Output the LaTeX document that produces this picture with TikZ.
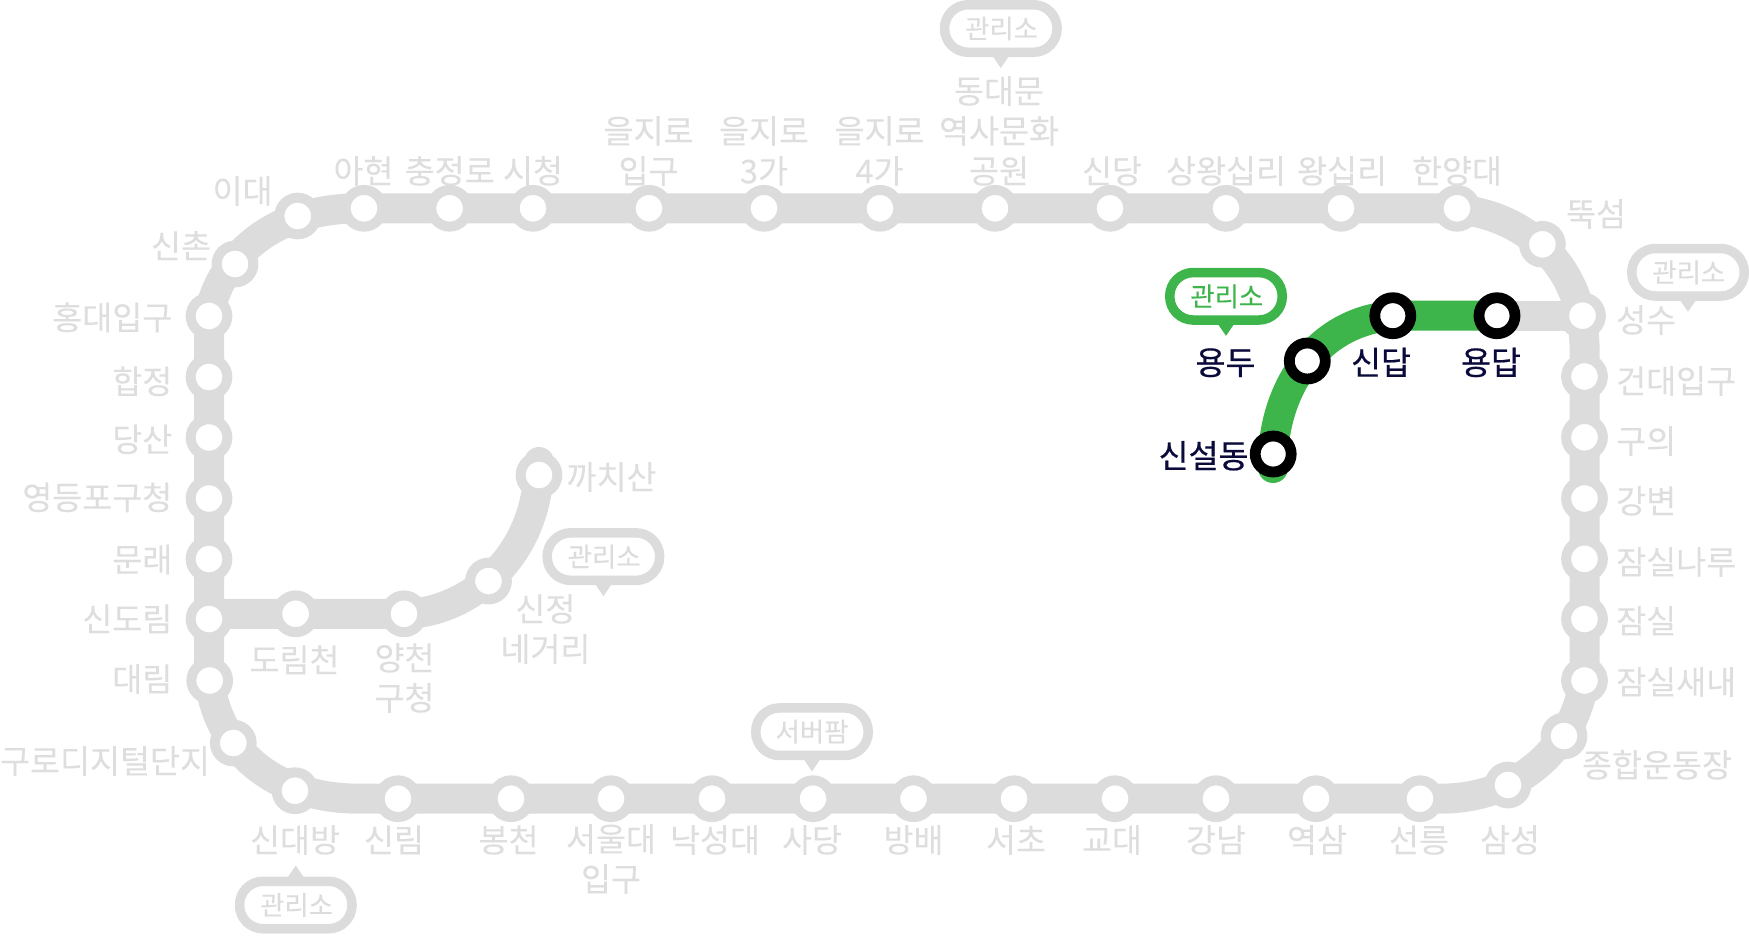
\documentclass[tikz,border=0pt]{standalone}
\usepackage{fontspec}
\setmainfont[FakeBold=0.08]{Noto Sans CJK KR}
\newfontfamily\krbold[FakeBold=0.5]{Noto Sans CJK KR}
\definecolor{trk}{HTML}{DCDCDC}
\definecolor{txt}{HTML}{DEDEDE}
\definecolor{grn}{HTML}{3DB54A}
\definecolor{navy}{HTML}{0B0B3B}
\newcommand{\callout}[5]{% name, x, y, colour, direction (+1 tip below, -1 tip above)
  \node[pill,draw=#4,text=#4] (#1) at (#2,#3) {\hspace{1.5pt}관리소};
  \coordinate (#1t) at ([yshift={-39.5pt*(#5)}]#1.center);
  \coordinate (#1a) at ([xshift=-11pt,yshift={-23.5pt*(#5)}]#1.center);
  \coordinate (#1b) at ([xshift=11pt,yshift={-23.5pt*(#5)}]#1.center);
  \fill[#4] (#1a) -- (#1t) -- (#1b) -- cycle;
}
\tikzset{
  x=1pt,y=-1pt,
  track/.style={line width=30pt,draw=trk},
  gtrack/.style={line width=30pt,draw=grn},
  stn/.style={circle,draw=trk,line width=10pt,fill=white,minimum size=36.7pt,inner sep=0pt},
  act/.style={circle,draw=black,line width=10.8pt,fill=white,minimum size=36pt,inner sep=0pt},
  lab/.style={anchor=base,align=center,inner sep=0pt,yshift=-2.2pt,text=txt,font=\fontsize{32.6}{40}\selectfont},
  alab/.style={anchor=base,align=center,inner sep=0pt,yshift=-1pt,text=navy,font=\krbold\fontsize{32.6}{40}\selectfont},
  pill/.style={rectangle,rounded corners=23.5pt,line width=9.5pt,fill=white,minimum width=112.5pt,minimum height=47.5pt,inner sep=0pt,font=\fontsize{26.4}{30}\selectfont},
}
\begin{document}
\begin{tikzpicture}
\useasboundingbox (0,0) rectangle (1749,945);
% station positions
\foreach \n/\x/\y in {
 hd/209/316, hj/209/377, ds/209/437.5, yd/209/498.5, mr/209/559, sd/209/619, dl/209.7/680.5,
 gd/233.3/743, sb/295/790.7, sl/398/798.7, bc/511/798.7, su/611/798.7, ns/712/798.7, sa/813/798.7,
 bb/913.5/798.7, sc/1014/798.7, gy/1115/798.7, gn/1216/798.7, ys/1316/798.7, sn/1420/798.7,
 ss/1508/785, jh/1564/736, js/1584.5/680.5, ja/1584.5/619, jn/1584.5/558.8, gb/1584.5/498.5,
 gu/1584.5/437.3, kd/1584.5/376.5, sw/1582.5/315.7, tt/1542.4/244.3, hy/1457/208.3, wa/1341/208.3,
 sw2/1226/208.3, sg/1110/208.3, dd/995/208.3, e4/880/208.3, e3/764/208.3, e1/649/208.3, ch/533/208.3,
 cj/449.6/208.3, ah/364/208.3, ed/297.7/216, sh/235/264,
 dr/295.6/613.8, yc/404/613.8, sj/488.5/581, kk/539/475,
 yt/1497/315.7, st/1392.8/315.7, yo/1307.3/361, sr/1273.2/454}
 {\coordinate (c\n) at (\x,\y);}
\coordinate (ctipk) at (539,462);
\coordinate (cgend) at (1273.2,468);
\coordinate (cnw) at (360,208.3);
\coordinate (cne) at (1440,208.3);
\coordinate (cen) at (1584.5,345);
\coordinate (ces) at (1584.5,660);
\coordinate (cse) at (1440,798.7);
\coordinate (csw0) at (360,798.7);
\coordinate (cws) at (209,660);
\coordinate (cwn) at (209,316);
% loop
\draw[track] (cwn) .. controls (217,268) and (262,208.3) .. (cnw) -- (cne)
  .. controls (1520,208.3) and (1582,262) .. (cen) -- (ces)
  .. controls (1588,725) and (1535,798.7) .. (cse) -- (csw0)
  .. controls (252,798.7) and (206,725) .. (cws) -- cycle;
% branch
\draw[track,line cap=round] (csd |- cdr) -- (cyc) .. controls (462,614) and (539,562) .. (ctipk);
% east spur
\draw[track] (cyt) -- (csw);
\draw[gtrack,line cap=round] (cgend) -- (csr);
\draw[gtrack] (csr) .. controls (1276,390) and (1315,322) .. (cst) -- (cyt);
% stations
\foreach \n in {hd,hj,ds,yd,mr,sd,dl,gd,sb,sl,bc,su,ns,sa,bb,sc,gy,gn,ys,sn,ss,jh,js,ja,jn,gb,gu,kd,sw,tt,hy,wa,sw2,sg,dd,e4,e3,e1,ch,cj,ah,ed,sh,dr,yc,sj,kk}
 {\node[stn] (\n) at (c\n) {};}
\foreach \n in {yt,st,yo,sr}
 {\node[act] (\n) at (c\n) {};}
% west labels
\node[lab,anchor=base east] (l1) at (172.5,327.5) {홍대입구};
\node[lab,anchor=base east] (l2) at (172.5,391.5) {합정};
\node[lab,anchor=base east] (l3) at (172.5,449.5) {당산};
\node[lab,anchor=base east] (l4) at (172.5,507.5) {영등포구청};
\node[lab,anchor=base east] (l5) at (172.5,569.5) {문래};
\node[lab,anchor=base east] (l6) at (172.5,629) {신도림};
\node[lab,anchor=base east] (l7) at (172.5,689) {대림};
\node[lab] (l8) at (105,771) {구로디지털단지};
% south labels
\node[lab] (l9) at (295,850) {신대방};
\node[lab] (l10) at (394,850) {신림};
\node[lab] (l11) at (508.6,850) {봉천};
\node[lab] (l12) at (611,889) {서울대\\입구};
\node[lab] (l13) at (715,850) {낙성대};
\node[lab] (l14) at (812,850) {사당};
\node[lab] (l15) at (913.5,850) {방배};
\node[lab] (l16) at (1016,850) {서초};
\node[lab] (l17) at (1112,850) {교대};
\node[lab] (l18) at (1216,850) {강남};
\node[lab] (l19) at (1317,850) {역삼};
\node[lab] (l20) at (1419,850) {선릉};
\node[lab] (l21) at (1510,850) {삼성};
\node[lab] (l22) at (1657,775) {종합운동장};
% east labels
\node[lab,anchor=base west] (l23) at (1616,330) {성수};
\node[lab,anchor=base west] (l24) at (1616,391) {건대입구};
\node[lab,anchor=base west] (l25) at (1616,451) {구의};
\node[lab,anchor=base west] (l26) at (1616,511) {강변};
\node[lab,anchor=base west] (l27) at (1616,572) {잠실나루};
\node[lab,anchor=base west] (l28) at (1616,631) {잠실};
\node[lab,anchor=base west] (l29) at (1616,692) {잠실새내};
\node[lab] (l30) at (1596,224) {뚝섬};
% north labels
\node[lab] (l31) at (1457,181) {한양대};
\node[lab] (l32) at (1342,181) {왕십리};
\node[lab] (l33) at (1226,181) {상왕십리};
\node[lab] (l34) at (1112,181) {신당};
\node[lab] (l35) at (999,181) {동대문\\역사문화\\공원};
\node[lab] (l36) at (879.5,181) {을지로\\4가};
\node[lab] (l37) at (764,181) {을지로\\3가};
\node[lab] (l38) at (648.5,181) {을지로\\입구};
\node[lab] (l39) at (533,181) {시청};
\node[lab] (l40) at (449.7,181) {충정로};
\node[lab] (l41) at (363.5,181) {아현};
\node[lab] (l42) at (242.5,201) {이대};
\node[lab] (l43) at (181,256) {신촌};
% branch labels
\node[lab] (l44) at (294.5,670) {도림천};
\node[lab] (l45) at (404.5,708) {양천\\구청};
\node[lab] (l46) at (545.4,659) {신정\\네거리};
\node[lab] (l47) at (611.5,487) {까치산};
% active labels
\node[alab] (a1) at (1225.5,373.7) {용두};
\node[alab] (a2) at (1381,373.7) {신답};
\node[alab] (a3) at (1491,373.7) {용답};
\node[alab] (a4) at (1203.6,467) {신설동};
% callouts
\callout{p1}{1000.8}{28.5}{trk}{1}
\callout{p2}{1226}{296.3}{grn}{1}
\callout{p3}{1688}{272.3}{trk}{1}
\callout{p4}{603.4}{556.6}{trk}{1}
\callout{p6}{295.8}{905}{trk}{-1}
\node[pill,draw=trk,text=trk] (p5) at (812,731.7) {서버팜};
\coordinate (p5t) at (812,771.5);
\coordinate (p5a) at (801,755);
\coordinate (p5b) at (823,755);
\fill[trk] (p5a) -- (p5t) -- (p5b) -- cycle;
\end{tikzpicture}
\end{document}
